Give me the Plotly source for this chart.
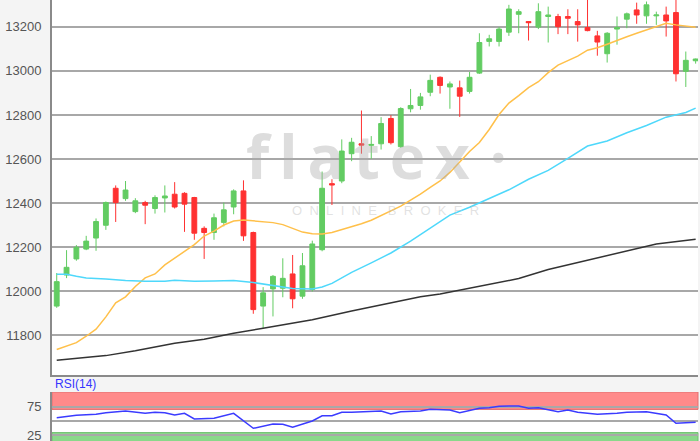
import plotly.graph_objects as go

# candle index (trading days)
idx = list(range(66))

opens = [11932, 12073, 12146, 12191, 12241, 12299, 12467, 12420, 12361, 12402,
         12375, 12423, 12440, 12444, 12425, 12285, 12266, 12312, 12382, 12455,
         12266, 11932, 12010, 12013, 12078, 11977, 12007, 12188, 12488, 12500,
         12624, 12669, 12662, 12669, 12784, 12656, 12828, 12843, 12903, 12971,
         12927, 12923, 12907, 12990, 13134, 13134, 13176, 13257, 13224, 13199,
         13247, 13247, 13247, 13224, 13197, 13159, 13078, 13190, 13235, 13277,
         13250, 13250, 13254, 13265, 12998, 13046]
highs = [12082, 12186, 12209, 12251, 12330, 12407, 12480, 12500, 12422, 12410,
         12435, 12480, 12495, 12449, 12428, 12294, 12352, 12402, 12462, 12503,
         12270, 12018, 12073, 12149, 12164, 12173, 12229, 12543, 12508, 12689,
         12696, 12820, 12704, 12790, 12799, 12835, 12918, 12900, 12983, 12975,
         12952, 12956, 12995, 13171, 13164, 13199, 13300, 13280, 13226, 13307,
         13292, 13259, 13280, 13280, 13330, 13182, 13176, 13247, 13265, 13310,
         13315, 13269, 13292, 13330, 13088, 13056]
lows = [11924, 12059, 12138, 12186, 12183, 12278, 12314, 12410, 12354, 12304,
        12352, 12357, 12375, 12269, 12233, 12146, 12233, 12294, 12349, 12228,
        11897, 11832, 11885, 11972, 11922, 11965, 11998, 12181, 12391, 12490,
        12590, 12624, 12601, 12643, 12666, 12651, 12812, 12824, 12885, 12897,
        12828, 12791, 12897, 12986, 13111, 13111, 13159, 13171, 13138, 13190,
        13129, 13167, 13167, 13133, 13180, 13069, 13038, 13119, 13194, 13214,
        13214, 13209, 13156, 12952, 12927, 13033]
closes = [12043, 12108, 12199, 12227, 12316, 12402, 12402, 12459, 12410, 12390,
          12425, 12432, 12382, 12395, 12263, 12266, 12333, 12369, 12455, 12251,
          11916, 11992, 12067, 12058, 11965, 12115, 12214, 12467, 12482, 12636,
          12676, 12663, 12666, 12761, 12674, 12829, 12843, 12882, 12957, 12934,
          12941, 12885, 12971, 13129, 13146, 13190, 13281, 13269, 13219, 13269,
          13254, 13201, 13239, 13209, 13183, 13131, 13171, 13197, 13259, 13254,
          13300, 13254, 13227, 12987, 13048, 13054]

# moving averages
ma20 = [11735, 11750, 11766, 11795, 11827, 11883, 11947, 11974, 12021, 12060,
        12078, 12119, 12150, 12182, 12211, 12250, 12272, 12300, 12318, 12323,
        12320, 12315, 12311, 12302, 12286, 12268, 12261, 12259, 12266, 12279,
        12290, 12306, 12322, 12343, 12363, 12386, 12413, 12440, 12471, 12500,
        12539, 12585, 12634, 12675, 12734, 12802, 12854, 12888, 12924, 12951,
        12992, 13026, 13048, 13067, 13094, 13105, 13121, 13139, 13155, 13171,
        13186, 13202, 13216, 13209, 13205, 13198]

ma50_x = [0, 1, 2, 3, 5, 7, 9, 11, 12, 14, 16, 18, 20, 22, 24, 26, 27, 28, 30,
          32, 33, 34, 36, 38, 40, 42, 44, 46, 48, 50, 52, 54, 56, 58, 60, 62, 64, 65]
ma50 = [12076, 12076, 12067, 12060, 12055, 12048, 12045, 12045, 12049, 12045,
        12046, 12048, 12039, 12026, 12012, 12010, 12019, 12035, 12085, 12128,
        12150, 12173, 12227, 12284, 12345, 12381, 12422, 12460, 12508, 12548,
        12603, 12659, 12682, 12719, 12752, 12790, 12811, 12831]

ma200_x = [0, 3, 5, 8, 12, 15, 18, 21, 26, 30, 34, 37, 39, 42, 44, 47, 50, 54, 58, 61, 65]
ma200 = [11686, 11699, 11707, 11729, 11763, 11781, 11809, 11831, 11870, 11910,
         11947, 11974, 11987, 12014, 12033, 12057, 12098, 12141, 12183, 12214, 12236]

rsi_x = [0, 2, 4, 5, 7, 9, 10, 11, 12, 13, 14, 16, 18, 20, 22, 23, 24, 26, 27,
         28, 29, 30, 33, 34, 35, 37, 38, 40, 41, 43, 44, 45, 46, 47, 48, 49, 51,
         52, 53, 55, 57, 58, 60, 62, 63, 64, 65]
rsi = [55.7, 60, 61.6, 64.1, 67.2, 63.3, 65, 64.3, 60.3, 63.3, 53.4, 54.7, 63.3,
       37.4, 44.8, 44.3, 39.1, 50, 59.1, 59.1, 65, 65, 67.2, 62.1, 66, 67.2, 70.2,
       69, 64.3, 71.9, 72.9, 75.3, 75.9, 75.9, 71.9, 72.9, 66, 69, 65, 61.6, 63.3,
       65, 66, 60.3, 46, 47, 47.8]

main_ticks = [11800, 12000, 12200, 12400, 12600, 12800, 13000, 13200]

fig = go.Figure()

fig.add_trace(go.Candlestick(
    x=idx, open=opens, high=highs, low=lows, close=closes,
    increasing=dict(line=dict(color="#62cc62", width=1), fillcolor="#62cc62"),
    decreasing=dict(line=dict(color="#ff3131", width=1), fillcolor="#ff3131"),
    xaxis="x", yaxis="y", hoverinfo="skip"))

fig.add_trace(go.Scatter(x=idx, y=ma20, mode="lines",
                         line=dict(color="#ffc04a", width=1.5), xaxis="x", yaxis="y"))
fig.add_trace(go.Scatter(x=ma50_x, y=ma50, mode="lines",
                         line=dict(color="#4ed8fb", width=1.5), xaxis="x", yaxis="y"))
fig.add_trace(go.Scatter(x=ma200_x, y=ma200, mode="lines",
                         line=dict(color="#333333", width=1.5), xaxis="x", yaxis="y"))

fig.add_trace(go.Scatter(x=rsi_x, y=rsi, mode="lines",
                         line=dict(color="#3b3bff", width=1.5), xaxis="x2", yaxis="y2"))

# RSI zones
fig.add_shape(type="rect", xref="x2 domain", yref="y2", x0=0, x1=1, y0=70, y1=100,
              fillcolor="#ff8a8a", line=dict(color="#e07070", width=1), layer="below")
fig.add_shape(type="rect", xref="x2 domain", yref="y2", x0=0, x1=1, y0=0, y1=30,
              fillcolor="#8ad88a", line=dict(color="#70c070", width=1), layer="below")

# watermark
fig.add_annotation(text="<b>" + "\u2009".join("flatex") + "\u2009\u2009\u00b7</b>",
                   x=0.502, y=12417,
                   xref="x domain", yref="y", yanchor="bottom", showarrow=False,
                   font=dict(family="Open Sans", size=60, color="rgba(170,170,170,0.4)"))
fig.add_annotation(text="\u2009\u200a ".join("ONLINE") + "&nbsp;&nbsp; " + "\u2009\u200a ".join("BROKER"),
                   x=0.516, y=12410,
                   xref="x domain", yref="y", yanchor="top", showarrow=False,
                   font=dict(family="Arial", size=13, color="rgba(190,190,190,0.45)"))

fig.add_annotation(text="RSI(14)", x=0.002, y=1 - 384 / 441, xref="paper", yref="paper",
                   xanchor="left", yanchor="middle", showarrow=False,
                   font=dict(family="Arial", size=12, color="#3535ff"))

axis_font = dict(family="Arial, Liberation Sans", size=13, color="#555555")

fig.update_layout(
    width=700, height=441,
    margin=dict(l=52, r=2, t=0, b=0),
    paper_bgcolor="#f4f4f4", plot_bgcolor="#ffffff",
    showlegend=False,
    xaxis=dict(domain=[0, 1], range=[-0.48, 65.24], anchor="y", automargin=False,
               showticklabels=False, showgrid=False, zeroline=False,
               showline=True, linecolor="#8a8a8a", linewidth=2, mirror=False,
               rangeslider=dict(visible=False)),
    yaxis=dict(domain=[1 - 375 / 441, 1], range=[11619, 13322], anchor="x",
               automargin=False,
               tickvals=main_ticks, ticktext=[str(v) for v in main_ticks],
               showgrid=True, gridcolor="#a8a8a8", gridwidth=1.5, zeroline=False,
               showline=True, linecolor="#8a8a8a", linewidth=2,
               tickfont=axis_font, ticklabelstandoff=6, ticklabeloverflow="allow"),
    xaxis2=dict(domain=[0, 1], range=[-0.48, 65.24], anchor="y2", automargin=False,
                showticklabels=False, showgrid=False, zeroline=False,
                showline=False),
    yaxis2=dict(domain=[0, 49 / 441], range=[15.5, 100], anchor="x2",
                automargin=False,
                tickvals=[25, 50, 75], ticktext=["25", "", "75"],
                showgrid=True, gridcolor="#a8a8a8", gridwidth=1.5, zeroline=False,
                showline=True, linecolor="#8a8a8a", linewidth=2,
                tickfont=axis_font, ticklabelstandoff=6, ticklabeloverflow="allow"),
)

# drop the browser's default 8px body margin so the chart sits at the page corner
fig.write_html("out.html", config={"displayModeBar": False},
               post_script="document.body.style.margin='0';")
